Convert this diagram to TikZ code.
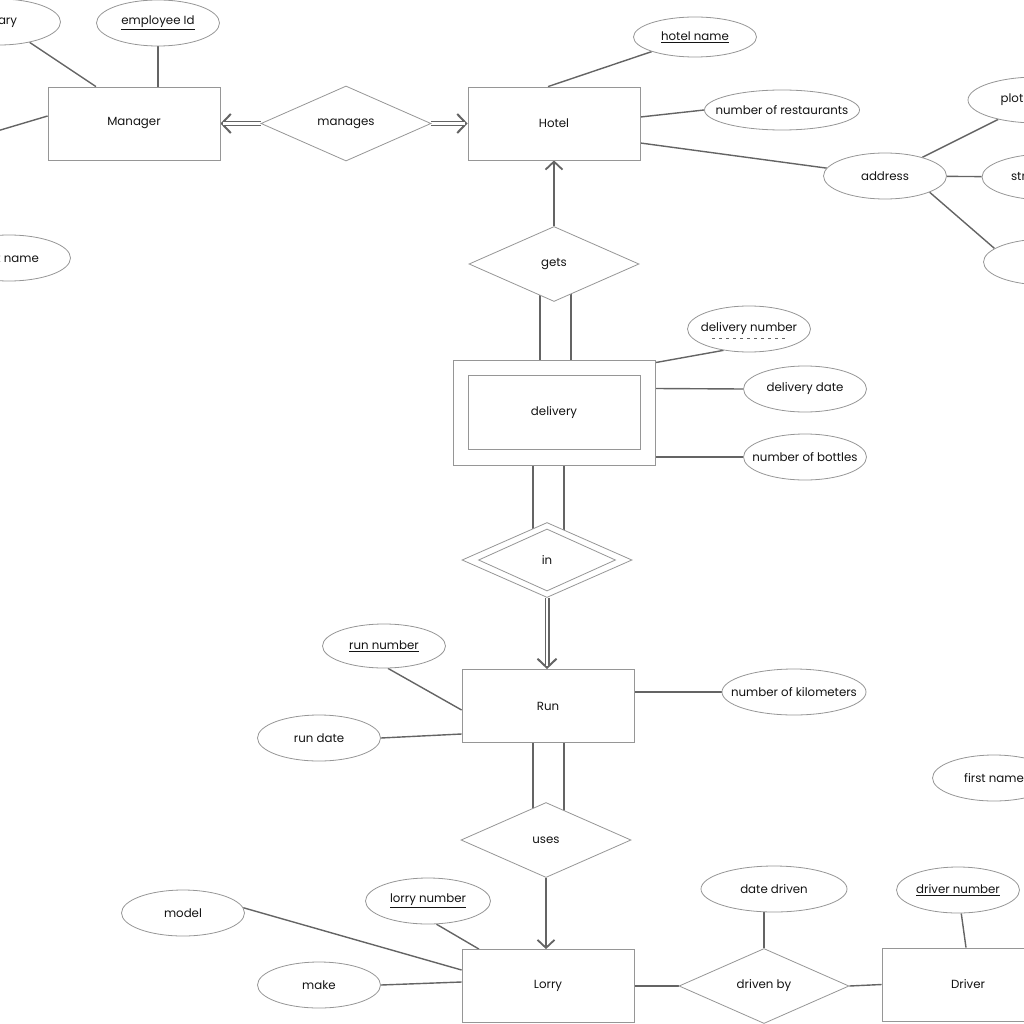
\documentclass[tikz,border=0pt]{standalone}
\usepackage{fontspec}
\setmainfont{Poppins}
\usetikzlibrary{arrows.meta,shapes.geometric,backgrounds,calc}
\definecolor{EdgeGray}{RGB}{150,150,150}
\definecolor{LineGray}{RGB}{100,100,100}
\definecolor{TextGray}{RGB}{20,20,20}

\begin{document}
\begin{tikzpicture}[x=1pt, y=-1pt,
	every node/.style={font=\fontsize{11.8}{13}\selectfont, text=TextGray},
	entity/.style={draw=EdgeGray, fill=white, line width=0.8pt, minimum width=172pt, minimum height=73pt, inner sep=0pt},
	relation/.style={diamond, draw=EdgeGray, fill=white, line width=0.8pt, minimum width=170pt, minimum height=75pt, inner sep=0pt},
	attr/.style={ellipse, draw=EdgeGray, fill=white, line width=0.8pt, minimum width=123pt, minimum height=46pt, inner xsep=-16pt, inner ysep=0pt},
	link/.style={draw=LineGray, line width=1.4pt},
	onearrow/.style={link, -{Straight Barb[length=8pt,width=17pt,line width=1.8pt]}},
	twotip/.style={link, line width=1.6pt, -{Straight Barb[length=9pt,width=19pt,line width=2pt]}},
	twoline/.style={draw=LineGray, line width=1.3pt, double=white, double distance=2.4pt, shorten >=3pt}
]
	\useasboundingbox (0,0) rectangle (1024,1024);
	\clip (0,0) rectangle (1024,1024);
	\node[entity] (manager) at (134,123.5) {Manager};
	\node[entity] (hotel) at (554,123.5) {Hotel};
	\node[relation] (manages) at (346,123.5) {manages};
	\node[attr] (salary) at (-1,22) {salary};
	\node[attr] (empid) at (158,23) {\underline{employee Id}};
	\coordinate (mleft) at (-60,148);
	\node[attr] (mname) at (9,258) {first name};
	\node[attr, minimum height=40pt] (hname) at (695,37) {\underline{hotel name}};
	\node[attr, minimum width=155pt, minimum height=40pt] (nrest) at (782,110) {number of restaurants};
	\node[attr] (address) at (885,176) {address};
	\node[attr, minimum width=138pt] (plotno) at (1037,100) {plot number};
	\node[attr, minimum width=130pt] (street) at (1047,177) {street name};
	\node[attr] (addr3) at (1045,262) {};
	\node[relation] (gets) at (554,264) {gets};
	\node[entity, minimum width=202pt, minimum height=105pt] (delivo) at (554,412.5) {};
	\node[entity, minimum height=74pt] (deliv) at (554,412.5) {delivery};
	\node[attr] (dnum) at (749,329) {delivery number};
	\draw[LineGray, line width=0.7pt, dash pattern=on 3pt off 4pt] ([xshift=-37pt,yshift=-9.5pt]dnum.center) -- ([xshift=39pt,yshift=-9.5pt]dnum.center);
	\node[attr] (ddate) at (805,389) {delivery date};
	\node[attr] (nbot) at (805,457) {number of bottles};
	\node[relation] (inrel) at (547,560) {};
	\node[relation, minimum width=137pt, minimum height=62pt] (ininner) at (547,560) {in};
	\node[entity] (run) at (548,706) {Run};
	\node[attr, minimum height=44pt] (rnum) at (384,646) {\underline{run number}};
	\node[attr] (rdate) at (319,738) {run date};
	\node[attr, minimum width=144pt] (nkm) at (794,692) {number of kilometers};
	\node[relation] (uses) at (546,840) {uses};
	\node[entity] (lorry) at (548,986) {Lorry};
	\node[attr, minimum width=125pt] (lnum) at (428,901) {\underline{lorry number}};
	\node[attr] (model) at (183,913) {model};
	\node[attr] (make) at (319,985) {make};
	\node[relation] (drivenby) at (764,986) {driven by};
	\node[attr, minimum width=146pt] (ddriven) at (774,889) {date driven};
	\node[entity] (driver) at (968,984.5) {Driver};
	\node[attr] (drvnum) at (958,890) {\underline{driver number}};
	\node[attr] (fname) at (994,778) {first name};
	\begin{scope}[on background layer]
		\clip (0,0) rectangle (1024,1024);
		\draw[link] (salary) -- ([xshift=-38pt]manager.north);
		\draw[link] (empid) -- ([xshift=24pt]manager.north);
		\draw[link] (mleft) -- ([yshift=7.5pt]manager.west);
		\draw[twotip] (manages.west) -- (manager.east);
		\draw[twoline] (manages.west) -- (manager.east);
		\draw[twotip] (manages.east) -- (hotel.west);
		\draw[twoline] (manages.east) -- (hotel.west);
		\draw[link] (hname) -- ([xshift=-6pt]hotel.north);
		\draw[link] (nrest.west) -- ([yshift=6.5pt]hotel.east);
		\draw[link] (address) -- ([yshift=-19.5pt]hotel.east);
		\draw[link] (plotno) -- (address);
		\draw[link] (street) -- (address);
		\draw[link] (address.-20) -- (addr3.165);
		\draw[onearrow] (gets.north) -- (hotel.south);
		\draw[link] ([xshift=-14pt]gets.center) -- ([xshift=-14pt]delivo.north);
		\draw[link] ([xshift=17pt]gets.center) -- ([xshift=17pt]delivo.north);
		\draw[link] (dnum.220) -- ([yshift=-3pt]delivo.north east);
		\draw[link] (ddate.west) -- ([yshift=24pt]delivo.east);
		\draw[link] (nbot.west) -- ([yshift=-44.5pt]delivo.east);
		\draw[link] ([xshift=-21pt]delivo.south) -- ([xshift=-14pt]inrel.center);
		\draw[link] ([xshift=10pt]delivo.south) -- ([xshift=17pt]inrel.center);
		\draw[twotip] (inrel.south) -- (inrel.south |- run.north);
		\draw[twoline] (inrel.south) -- (inrel.south |- run.north);
		\draw[link] (rnum.280) -- ([yshift=-4pt]run.west);
		\draw[link] (rdate.east) -- ([yshift=-28pt]run.west);
		\draw[link] ([yshift=14pt]run.east) -- (nkm.west);
		\draw[link] ([xshift=-15pt]run.south) -- ([xshift=-13pt]uses.center);
		\draw[link] ([xshift=16pt]run.south) -- ([xshift=18pt]uses.center);
		\draw[onearrow] (uses.south) -- (uses.south |- lorry.north);
		\draw[link] (lnum.290) -- ([xshift=-69pt]lorry.north);
		\draw[link] (model.5) -- ([yshift=16pt]lorry.west);
		\draw[link] (make.east) -- ([yshift=4pt]lorry.west);
		\draw[link] (lorry.east) -- (drivenby.west);
		\draw[link] (drivenby.east) -- (driver.west);
		\draw[link] (ddriven.south -| drivenby.north) -- (drivenby.north);
		\draw[link] (drvnum) -- ([xshift=-2pt]driver.north);
	\end{scope}
\end{tikzpicture}
\end{document}
